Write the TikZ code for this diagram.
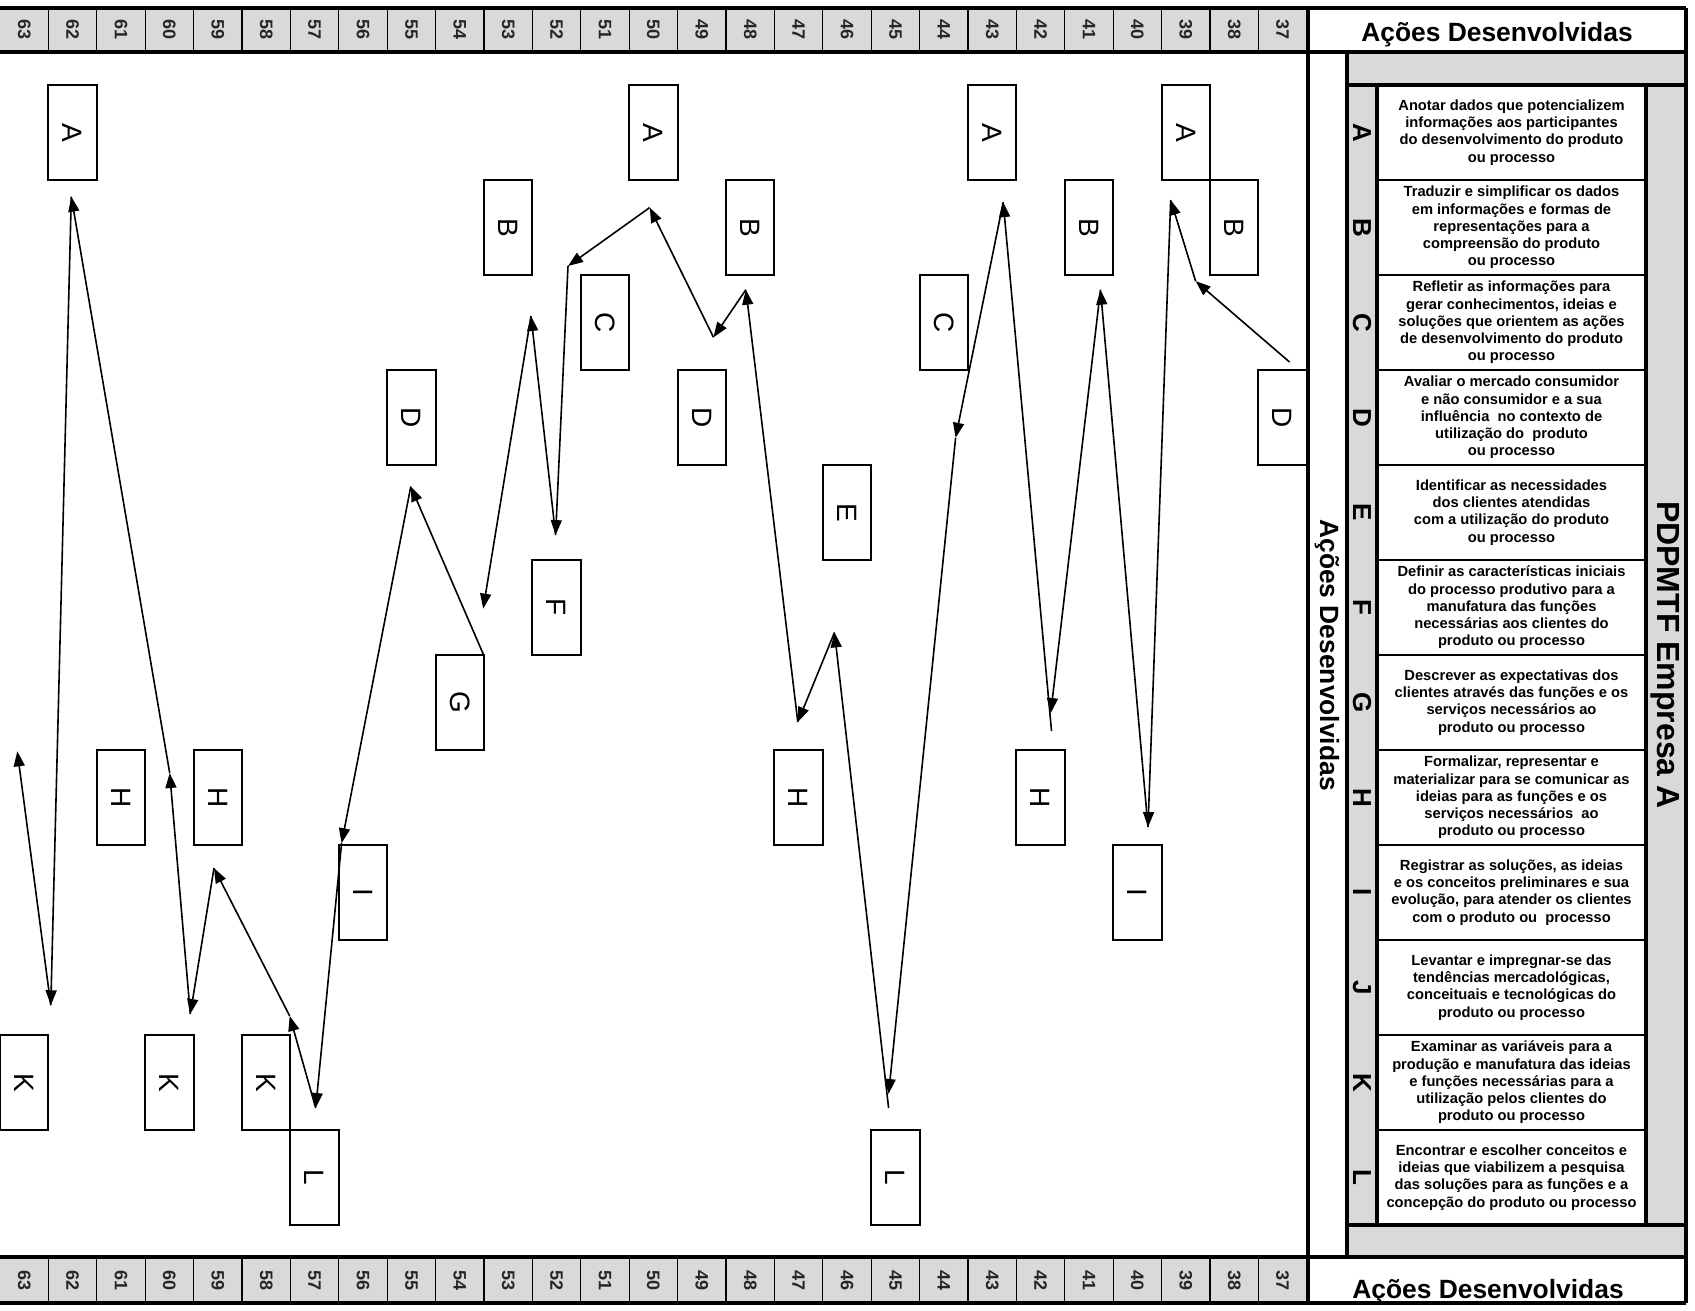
\documentclass[tikz,border=0pt]{standalone}
\usepackage{fontspec}
\setmainfont{Liberation Sans}
\usetikzlibrary{arrows.meta}
\definecolor{cellgray}{RGB}{217,217,217}
\begin{document}
\begin{tikzpicture}[x=1pt,y=-1pt,
  frame/.style={line width=3.5pt},
  divider/.style={line width=1.3pt},
  rowline/.style={line width=1.8pt},
  colnum/.style={rotate=-90,font=\bfseries\fontsize{18}{18}\selectfont,text=black!85,inner sep=0pt},
  actbox/.style={draw,line width=2pt,rotate=-90,minimum width=95pt,minimum height=48.4pt,inner sep=0pt,fill=white,font=\fontsize{28}{28}\selectfont},
  legletter/.style={rotate=-90,font=\bfseries\fontsize{26}{26}\selectfont,inner sep=0pt},
  legtext/.style={align=center,font=\bfseries\fontsize{14.7}{17.3}\selectfont,inner sep=0pt},
  title/.style={font=\bfseries\fontsize{26.4}{26.4}\selectfont,inner sep=0pt},
  flow/.style={line width=1.6pt,-{Triangle[length=15pt,width=11pt]}},
]
\useasboundingbox (0,0) rectangle (1695,1311);

% header and footer strips with the action numbers
\fill[cellgray] (0,8) rectangle (1308,52);
\fill[cellgray] (0,1257) rectangle (1308,1303);
\foreach \k in {1,...,26} {
  \draw[divider] ({48.4*\k},8) -- ({48.4*\k},52);
  \draw[divider] ({48.4*\k},1257) -- ({48.4*\k},1303);
}
\foreach \n in {37,...,63} {
  \node[colnum] (top\n) at ({48.4*(63-\n+0.5)},30) {\n};
  \node[colnum] (bot\n) at ({48.4*(63-\n+0.5)},1280) {\n};
}

% legend panel
\fill[cellgray] (1347,52) rectangle (1686,1257);
\fill[white] (1377,85) rectangle (1646,1225);
\foreach \k in {1,...,11} {
  \draw[rowline] (1377,{85+95*\k}) -- (1646,{85+95*\k});
}

% frame
\draw[frame] (0,8) -- (1686,8);
\draw[frame] (0,52) -- (1686,52);
\draw[frame] (0,1257) -- (1686,1257);
\draw[frame] (0,1303) -- (1686,1303);
\draw[frame] (1308,8) -- (1308,1303);
\draw[frame] (1686,8) -- (1686,1303);
\draw[frame] (1347,52) -- (1347,1257);
\draw[frame] (1347,85) -- (1686,85);
\draw[frame] (1347,1225) -- (1686,1225);
\draw[frame] (1377,85) -- (1377,1225);
\draw[frame] (1646,85) -- (1646,1225);

% titles
\node[title,anchor=base] (toptitle) at (1497,41.7) {Ações Desenvolvidas};
\node[title,anchor=base] (bottitle) at (1488,1298) {Ações Desenvolvidas};
\node[title,rotate=-90] (sidetitle) at (1327,655) {Ações Desenvolvidas};
\node[rotate=-90,font=\bfseries\fontsize{32}{32}\selectfont,inner sep=0pt] (company) at (1665,655) {PDPMTF Empresa A};

% legend letters
\foreach \l [count=\r from 0] in {A,B,C,D,E,F,G,H,I,J,K,L} {
  \node[legletter] (let\l) at (1362,{85+95*(\r+0.5)}) {\l};
}

% legend descriptions
\node[legtext] (legA) at (1511.5,132.5) {Anotar dados que potencializem\\informações aos participantes\\do desenvolvimento do produto\\ou processo};
\node[legtext] (legB) at (1511.5,227.5) {Traduzir e simplificar os dados\\em informações e formas de\\representações para a\\compreensão do produto\\ou processo};
\node[legtext] (legC) at (1511.5,322.5) {Refletir as informações para\\gerar conhecimentos, ideias e\\soluções que orientem as ações\\de desenvolvimento do produto\\ou processo};
\node[legtext] (legD) at (1511.5,417.5) {Avaliar o mercado consumidor\\e não consumidor e a sua\\influência\ \ no contexto de\\utilização do\ \ produto\\ou processo};
\node[legtext] (legE) at (1511.5,512.5) {Identificar as necessidades\\dos clientes atendidas\\com a utilização do produto\\ou processo};
\node[legtext] (legF) at (1511.5,607.5) {Definir as características iniciais\\do processo produtivo para a\\manufatura das funções\\necessárias aos clientes do\\produto ou processo};
\node[legtext] (legG) at (1511.5,702.5) {Descrever as expectativas dos\\clientes através das funções e os\\serviços necessários ao\\produto ou processo};
\node[legtext] (legH) at (1511.5,797.5) {Formalizar, representar e\\materializar para se comunicar as\\ideias para as funções e os\\serviços necessários\ \ ao\\produto ou processo};
\node[legtext] (legI) at (1511.5,892.5) {Registrar as soluções, as ideias\\e os conceitos preliminares e sua\\evolução, para atender os clientes\\com o produto ou\ \ processo};
\node[legtext] (legJ) at (1511.5,987.5) {Levantar e impregnar-se das\\tendências mercadológicas,\\conceituais e tecnológicas do\\produto ou processo};
\node[legtext] (legK) at (1511.5,1082.5) {Examinar as variáveis para a\\produção e manufatura das ideias\\e funções necessárias para a\\utilização pelos clientes do\\produto ou processo};
\node[legtext] (legL) at (1511.5,1177.5) {Encontrar e escolher conceitos e\\ideias que viabilizem a pesquisa\\das soluções para as funções e a\\concepção do produto ou processo};

% action boxes: letter / action number / row
\foreach \l/\n/\r in {A/62/0,A/50/0,A/43/0,A/39/0,
                      B/53/1,B/48/1,B/41/1,B/38/1,
                      C/51/2,C/44/2,
                      D/55/3,D/49/3,D/37/3,
                      E/46/4,F/52/5,G/54/6,
                      H/61/7,H/59/7,H/47/7,H/42/7,
                      I/56/8,I/40/8,
                      K/63/10,K/60/10,K/58/10,
                      L/57/11,L/45/11} {
  \node[actbox] (box\l\n) at ({48.4*(63-\n+0.5)},{85+95*(\r+0.5)}) {\l};
}

% turning points of the sequence
\coordinate (v0) at (1289.6,362.1);
\coordinate (v1) at (1195.6,281.1);
\coordinate (v2) at (1170.7,200.0);
\coordinate (v3) at (1148.0,827.0);
\coordinate (v4) at (1100.5,289.7);
\coordinate (v5t) at (1050.7,713);
\coordinate (v5) at (1051.5,731);
\coordinate (v6) at (1003.2,202.1);
\coordinate (v7) at (955.6,437.8);
\coordinate (v8t) at (888.6,1094);
\coordinate (v8) at (888.6,1108);
\coordinate (v9) at (834.5,632.4);
\coordinate (v10) at (797.8,722.1);
\coordinate (v11) at (745.9,289.7);
\coordinate (v12) at (713.5,337.3);
\coordinate (v13) at (649.7,207.6);
\coordinate (v14) at (568,266);
\coordinate (v15) at (555.6,535.1);
\coordinate (v16) at (531,316);
\coordinate (v17) at (483.2,608.6);
\coordinate (v17b) at (483.2,654.0);
\coordinate (v18) at (410.8,486.5);
\coordinate (v19) at (341.6,843.2);
\coordinate (v20) at (315.7,1108);
\coordinate (v21) at (289.7,1016);
\coordinate (v22) at (214.0,868);
\coordinate (v23) at (190.3,1014);
\coordinate (v24) at (169.7,773);
\coordinate (v25) at (71.3,196.7);
\coordinate (v26) at (50.8,1005.3);
\coordinate (v27) at (17.3,751.3);

% sequence arrows
\draw[flow] (v0) -- (v1);
\draw[flow] (v1) -- (v2);
\draw[flow] (v2) -- (v3);
\draw[flow] (v3) -- (v4);
\draw[flow] (v4) -- (v5t);
\draw[flow] (v5) -- (v6);
\draw[flow] (v6) -- (v7);
\draw[flow] (v7) -- (v8t);
\draw[flow] (v8) -- (v9);
\draw[flow] (v9) -- (v10);
\draw[flow] (v10) -- (v11);
\draw[flow] (v11) -- (v12);
\draw[flow] (v12) -- (v13);
\draw[flow] (v13) -- (v14);
\draw[flow] (v14) -- (v15);
\draw[flow] (v15) -- (v16);
\draw[flow] (v16) -- (v17);
\draw[flow] (v17b) -- (v18);
\draw[flow] (v18) -- (v19);
\draw[flow] (v19) -- (v20);
\draw[flow] (v20) -- (v21);
\draw[flow] (v21) -- (v22);
\draw[flow] (v22) -- (v23);
\draw[flow] (v23) -- (v24);
\draw[flow] (v24) -- (v25);
\draw[flow] (v25) -- (v26);
\draw[flow] (v26) -- (v27);
\end{tikzpicture}
\end{document}
